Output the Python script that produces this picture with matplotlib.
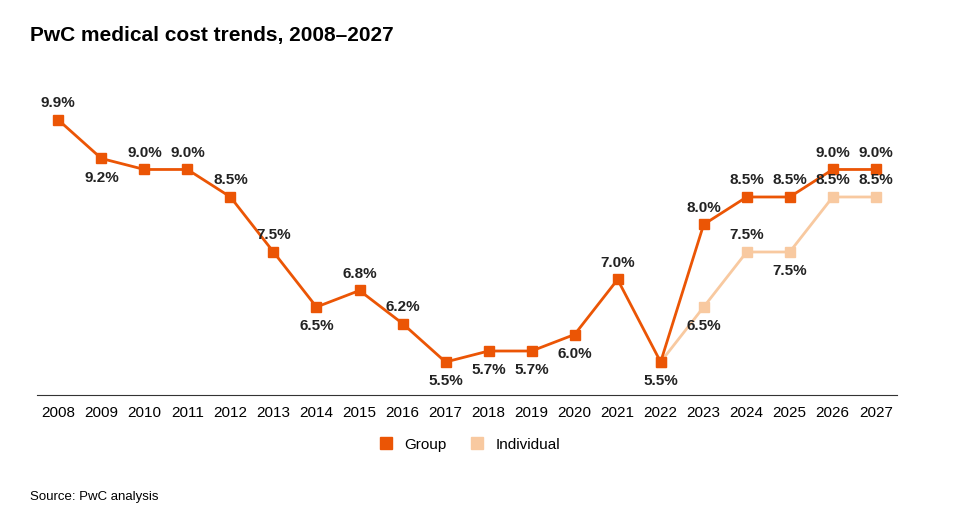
import matplotlib
matplotlib.use('Agg')
import matplotlib.pyplot as plt
from matplotlib.lines import Line2D

plt.rcParams['font.family'] = ['Liberation Sans', 'DejaVu Sans']

years = list(range(2008, 2028))
group = [9.9, 9.2, 9.0, 9.0, 8.5, 7.5, 6.5, 6.8, 6.2, 5.5, 5.7, 5.7, 6.0, 7.0, 5.5, 8.0, 8.5, 8.5, 9.0, 9.0]
group_pos = ['a', 'b', 'a', 'a', 'a', 'a', 'b', 'a', 'a', 'b', 'b', 'b', 'b', 'a', 'b', 'a', 'a', 'a', 'a', 'a']
ind_years = [2022, 2023, 2024, 2025, 2026, 2027]
individual = [5.5, 6.5, 7.5, 7.5, 8.5, 8.5]
ind_pos = [None, 'b', 'a', 'b', 'a', 'a']

C_GROUP = '#EB5505'
C_IND = '#F8C9A0'

fig = plt.figure(figsize=(9.7, 5.13), dpi=100)
ax = fig.add_axes([0.038, 0.23, 0.887, 0.653])

ax.plot(ind_years, individual, color=C_IND, lw=2, marker='s', ms=7)
ax.plot(years, group, color=C_GROUP, lw=2, marker='s', ms=7)

for x, v, p in zip(years, group, group_pos):
    off = 12 if p == 'a' else -14
    ax.annotate(f'{v:.1f}%', (x, v), xytext=(0, off), textcoords='offset points',
                ha='center', va='center', fontsize=11, fontweight='bold', color='#222222')
for x, v, p in zip(ind_years, individual, ind_pos):
    if p is None:
        continue
    off = 12 if p == 'a' else -14
    ax.annotate(f'{v:.1f}%', (x, v), xytext=(0, off), textcoords='offset points',
                ha='center', va='center', fontsize=11, fontweight='bold', color='#222222')

ax.set_xlim(2007.5, 2027.5)
ax.set_ylim(4.9, 10.99)
ax.set_xticks(years)
ax.set_xticklabels([str(y) for y in years], fontsize=11)
ax.set_yticks([])
for s in ['top', 'right', 'left']:
    ax.spines[s].set_visible(False)
ax.spines['bottom'].set_color('#333333')
ax.tick_params(axis='x', length=0, pad=8)

handles = [Line2D([], [], color=C_GROUP, marker='s', ls='', ms=9, label='Group'),
           Line2D([], [], color=C_IND, marker='s', ls='', ms=9, label='Individual')]
fig.legend(handles=handles, loc='center', bbox_to_anchor=(0.48, 0.133), ncol=2,
           frameon=False, fontsize=11, handletextpad=0.2, columnspacing=1.0)

fig.text(0.031, 0.93, 'PwC medical cost trends, 2008\u20132027', fontsize=15,
         fontweight='bold', va='center')
fig.text(0.031, 0.032, 'Source: PwC analysis', fontsize=9.5, va='center')

fig.savefig('out.png', dpi=100)
